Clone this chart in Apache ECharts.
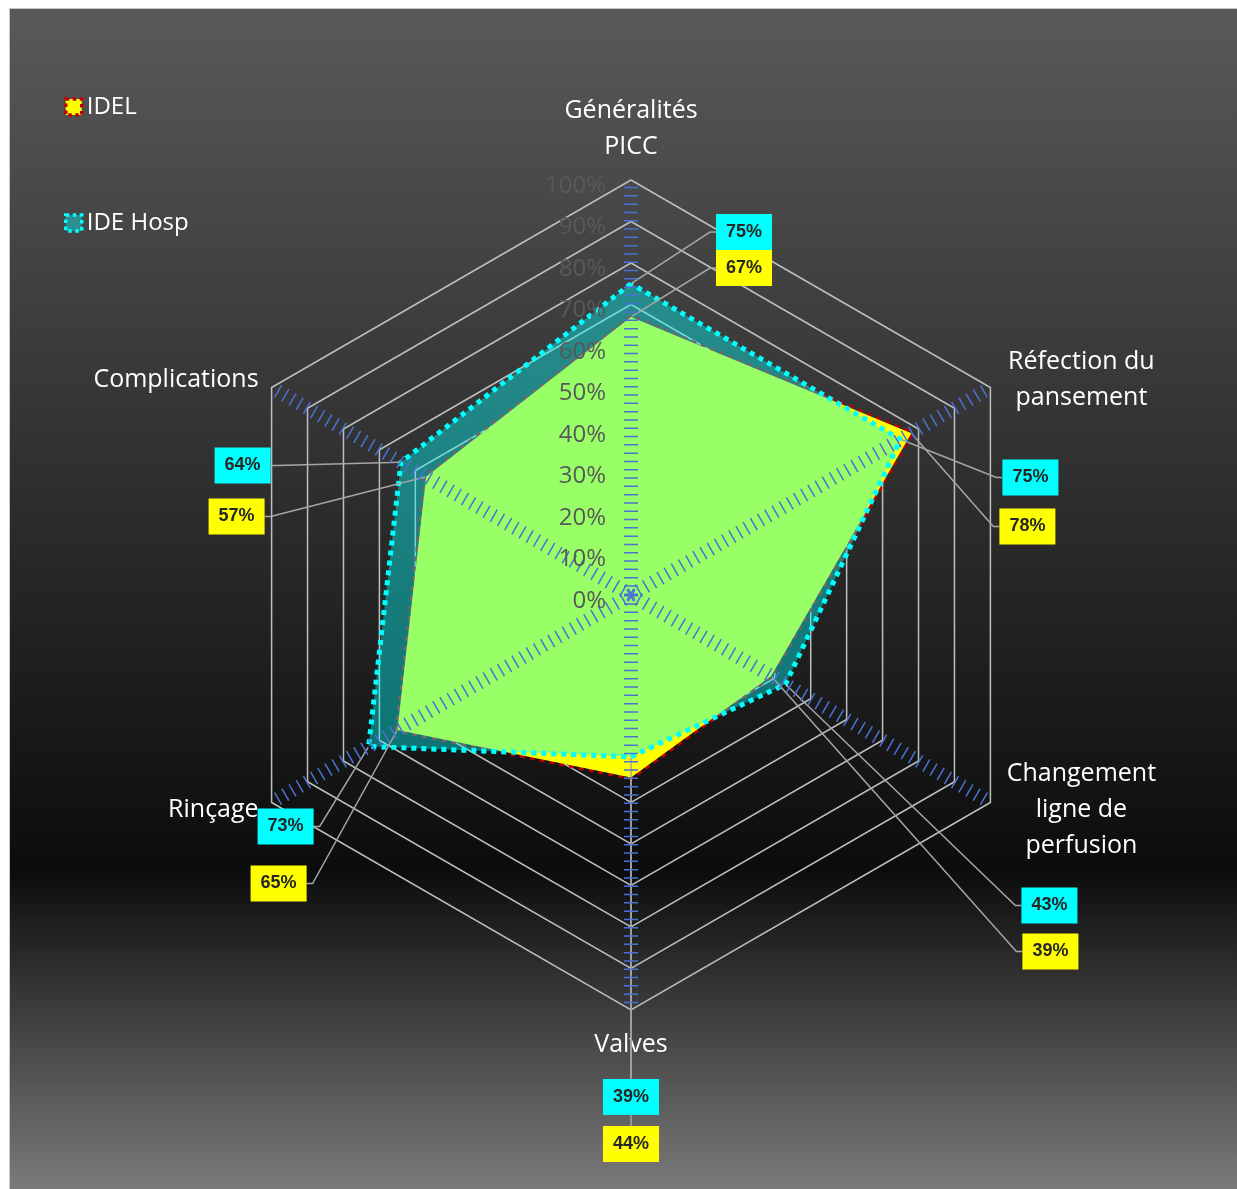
<!DOCTYPE html>
<html>
<head>
<meta charset="utf-8">
<script src="https://cdn.jsdelivr.net/npm/echarts@6/dist/echarts.min.js"></script>
<style>
  html, body { margin: 0; padding: 0; background: #fff; }
  #chart {
    position: absolute; left: 9px; top: 8px; width: 1228px; height: 1181px;
    border-left: 1px solid #c8c8c8; border-top: 1px solid #c8c8c8; box-sizing: border-box;
  }
</style>
</head>
<body>
<div id="chart"></div>
<script>
// clockwise from the top, as in the original chart
const categories = ['Généralités\nPICC', 'Réfection du\npansement', 'Changement\nligne de\nperfusion', 'Valves', 'Rinçage', 'Complications']
const idel = [67, 78, 39, 44, 65, 57]
const ideHosp = [75, 75, 43, 39, 73, 64]
const seriesNames = ['IDEL', 'IDE Hosp']
const axisMax = 100
const axisStep = 10

// echarts lays radar indicators out counter-clockwise
const order = [0, 5, 4, 3, 2, 1]

const CX = 621
const CY = 586
const R = 415
const FONT = '"Open Sans", "Noto Sans", sans-serif'

// where the value boxes sit, relative to the end of each axis
const idelOffset = [[113, 88], [37, 139], [60, 149], [0, 134], [7, 81], [-35, 129]]
const hospOffset = [[113, 52], [40, 90], [59, 103], [0, 87], [14, 24], [-29, 78]]

const chart = echarts.init(document.getElementById('chart'))

const indicator = order.map(i => ({ name: categories[i], min: 0, max: axisMax }))
const tickIndicator = order.map((i, n) => {
  const it = { name: '', min: 0, max: axisMax }
  if (n === 0) it.axisLabel = { show: true }
  return it
})

function placeLabel(p) {
  const px = p.rect.x + p.rect.width / 2
  const py = p.rect.y + p.rect.height / 2
  const deg = (Math.atan2(px - CX, CY - py) * 180 / Math.PI + 360) % 360
  const k = Math.round(deg / 60) % 6
  const off = (p.seriesIndex === 0 ? idelOffset : hospOffset)[k]
  const ang = k * Math.PI / 3
  return {
    x: CX + R * Math.sin(ang) + off[0],
    y: CY - R * Math.cos(ang) + off[1],
    align: 'center',
    verticalAlign: 'middle'
  }
}

function valueLabel(bg) {
  return {
    show: true,
    formatter: p => p.value + '%',
    backgroundColor: bg,
    color: '#262626',
    fontWeight: 'bold',
    fontSize: 18,
    lineHeight: 18,
    fontFamily: '"Liberation Sans", Arial, sans-serif',
    padding: [9, 10]
  }
}

const labelLine = { show: true, length2: 6, lineStyle: { color: '#a6a6a6', width: 1.5 } }

const option = {
  animation: false,
  backgroundColor: {
    type: 'linear', x: 0, y: 0, x2: 0, y2: 1,
    colorStops: [
      { offset: 0, color: '#595959' },
      { offset: 0.73, color: '#0c0c0c' },
      { offset: 1, color: '#7a7a7a' }
    ]
  },
  legend: {
    orient: 'vertical',
    left: 49,
    top: 81,
    icon: 'rect',
    itemWidth: 16,
    itemHeight: 16,
    itemGap: 92,
    textStyle: { color: '#fff', fontSize: 24, fontFamily: FONT },
    data: [
      { name: seriesNames[0], itemStyle: { color: '#ffff00', borderColor: '#c00000', borderWidth: 3.5, borderType: 'dotted' } },
      { name: seriesNames[1], itemStyle: { color: 'rgba(0,255,255,0.4)', borderColor: '#00ffff', borderWidth: 3.5, borderType: 'dotted' } }
    ]
  },
  radar: [
    {
      center: [CX, CY],
      radius: R,
      startAngle: 90,
      splitNumber: axisMax / axisStep,
      shape: 'polygon',
      indicator: indicator,
      nameGap: 15,
      axisName: {
        color: '#fff',
        fontSize: 25,
        fontFamily: FONT,
        formatter: name => name.split('\n').length > 1
          ? name.split('\n').map(l => '{a|' + l + '}').join('\n')
          : '{b|' + name + '}',
        rich: {
          a: { width: 156, align: 'center', color: '#fff', fontSize: 25, fontFamily: FONT, lineHeight: 36 },
          b: { color: '#fff', fontSize: 25, fontFamily: FONT, lineHeight: 40 }
        }
      },
      splitLine: { lineStyle: { color: '#bfbfbf', width: 1.5 } },
      splitArea: { show: false },
      axisLine: { show: false },
      axisTick: { show: false },
      axisLabel: { show: false }
    },
    {
      // second copy above the series: blue tick marks and the % scale
      z: 3,
      center: [CX, CY],
      radius: R,
      startAngle: 90,
      splitNumber: axisMax / axisStep,
      shape: 'polygon',
      indicator: tickIndicator,
      axisName: { show: false },
      splitLine: { show: false },
      splitArea: { show: false },
      axisLine: { show: true, lineStyle: { color: '#4a72d4', width: 14, type: [1.5, 6.8], cap: 'butt' } },
      axisTick: { show: false },
      axisLabel: {
        show: false,
        color: '#595959',
        fontSize: 24,
        fontFamily: FONT,
        margin: 25,
        verticalAlign: 'top',
        lineHeight: 12,
        formatter: '{value}%'
      }
    }
  ],
  series: [
    {
      name: seriesNames[0],
      type: 'radar',
      radarIndex: 0,
      symbol: 'circle',
      symbolSize: 2,
      itemStyle: { color: 'rgba(0,0,0,0)' },
      lineStyle: { color: '#c00000', width: 5, type: [5, 5] },
      areaStyle: { color: '#ffff00', opacity: 1 },
      label: valueLabel('#ffff00'),
      labelLine: labelLine,
      labelLayout: placeLabel,
      data: [{ name: seriesNames[0], value: order.map(i => idel[i]) }]
    },
    {
      name: seriesNames[1],
      type: 'radar',
      radarIndex: 0,
      symbol: 'circle',
      symbolSize: 2,
      itemStyle: { color: 'rgba(0,0,0,0)' },
      lineStyle: { color: '#00ffff', width: 5, type: [5, 5] },
      areaStyle: { color: '#00ffff', opacity: 0.4 },
      label: valueLabel('#00ffff'),
      labelLine: labelLine,
      labelLayout: placeLabel,
      data: [{ name: seriesNames[1], value: order.map(i => ideHosp[i]) }]
    }
  ]
}

chart.setOption(option)
</script>
</body>
</html>
